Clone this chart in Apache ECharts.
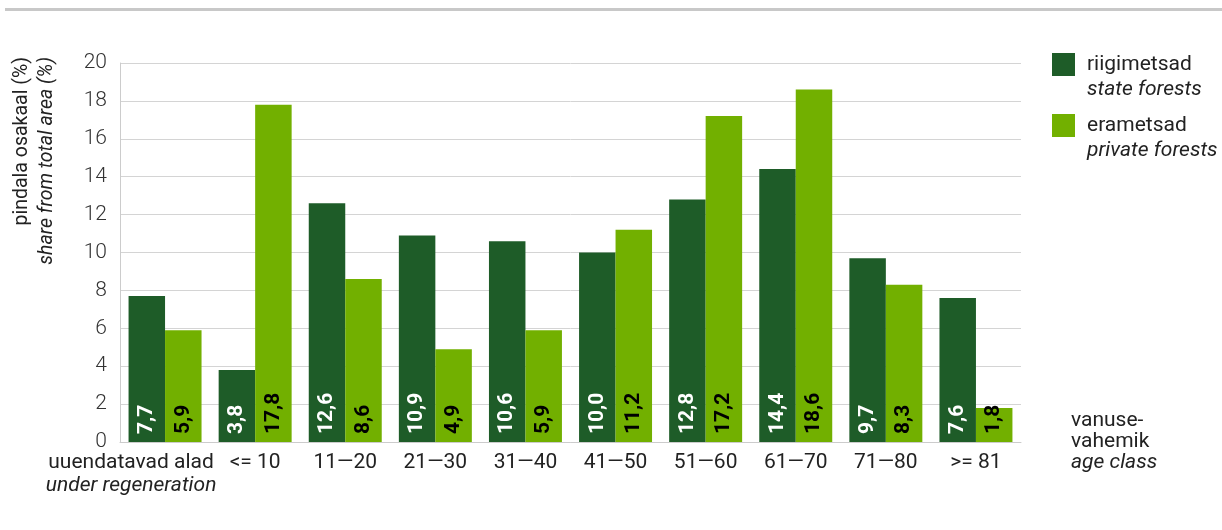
<!DOCTYPE html>
<html><head><meta charset="utf-8">
<script src="https://cdn.jsdelivr.net/npm/echarts@6/dist/echarts.min.js"></script>
<style>html,body{margin:0;padding:0;background:#fff}#c{width:1222px;height:530px}</style>
</head><body><div id="c"></div>
<script>
const categories = ['uuendatavad alad', '<= 10', '11—20', '21—30', '31—40', '41—50', '51—60', '61—70', '71—80', '>= 81'];
const stateForests = [7.7, 3.8, 12.6, 10.9, 10.6, 10.0, 12.8, 14.4, 9.7, 7.6];
const privateForests = [5.9, 17.8, 8.6, 4.9, 5.9, 11.2, 17.2, 18.6, 8.3, 1.8];
const yTicks = [0, 2, 4, 6, 8, 10, 12, 14, 16, 18, 20];

const DARK = '#1e5c28', LIGHT = '#72b000';
const FONT = 'Roboto';
const FS = 21;
const chart = echarts.init(document.getElementById('c'));
const fmt = p => p.value.toFixed(1).replace('.', ',');
const legendRich = { i: { fontStyle: 'italic', fontSize: FS, fontFamily: FONT, color: '#222', lineHeight: 25 } };

chart.setOption({
  animation: false,
  textStyle: { fontFamily: FONT },
  graphic: [
    { type: 'rect', shape: { x: 5, y: 8, width: 1217, height: 3 }, style: { fill: '#c8c8c8' }, silent: true },
    { type: 'text', x: 35, y: 57, rotation: Math.PI / 2,
      style: { text: 'pindala osakaal (%)\n{i|share from total area (%)}', align: 'right', verticalAlign: 'middle',
        fontSize: 19.5, fontFamily: FONT, fill: '#222', lineHeight: 25,
        rich: { i: { fontStyle: 'italic', fontSize: 19.5, fontFamily: FONT, fill: '#222', lineHeight: 25 } } } }
  ],
  legend: [
    { data: ['riigimetsad'], left: 1052, top: 27, padding: 0, itemWidth: 23, itemHeight: 23, icon: 'rect',
      formatter: () => 'riigimetsad\n{i|state forests}',
      textStyle: { fontSize: FS, fontFamily: FONT, color: '#222', lineHeight: 25, padding: [25, 0, 0, 7], rich: legendRich } },
    { data: ['erametsad'], left: 1052, top: 88, padding: 0, itemWidth: 23, itemHeight: 23, icon: 'rect',
      formatter: () => 'erametsad\n{i|private forests}',
      textStyle: { fontSize: FS, fontFamily: FONT, color: '#222', lineHeight: 25, padding: [25, 0, 0, 7], rich: legendRich } }
  ],
  grid: { left: 120, right: 201, top: 63, bottom: 88 },
  xAxis: {
    type: 'category',
    data: categories.map((c, i) => i === 0
      ? { value: c, textStyle: { padding: [0, 68, 0, 0] } }
      : c),
    axisTick: { show: false },
    axisLine: { show: true, lineStyle: { color: '#cccccc', width: 1 } },
    axisLabel: {
      interval: 0, margin: 9, fontSize: FS, color: '#222', fontFamily: FONT, lineHeight: 23,
      formatter: v => v === categories[0] ? v + '\n{i|under regeneration}' : v,
      rich: { i: { fontStyle: 'italic', fontSize: FS, fontFamily: FONT, color: '#222', lineHeight: 23 } }
    },
    name: 'vanuse-\nvahemik\n{i|age class}',
    nameLocation: 'end', nameGap: 50,
    nameTextStyle: { fontSize: FS, fontFamily: FONT, color: '#222', lineHeight: 21, align: 'left', verticalAlign: 'middle',
      rich: { i: { fontStyle: 'italic', fontSize: FS, fontFamily: FONT, color: '#222', lineHeight: 21 } } }
  },
  yAxis: {
    type: 'value', min: yTicks[0], max: yTicks[yTicks.length - 1], interval: yTicks[1] - yTicks[0],
    axisLine: { show: true, lineStyle: { color: '#cccccc' } },
    axisTick: { show: false },
    splitLine: { lineStyle: { color: '#d4d4d4', width: 1 } },
    axisLabel: { fontSize: FS, color: '#333', fontFamily: FONT, fontWeight: 300, margin: 13 }
  },
  series: [
    { name: 'riigimetsad', type: 'bar', data: stateForests, barGap: '0%', barCategoryGap: '19%',
      itemStyle: { color: DARK },
      label: { show: true, position: 'insideBottom', rotate: 90, align: 'left', verticalAlign: 'middle', distance: 8,
        formatter: fmt, color: '#fff', fontSize: FS, fontWeight: 'bold', fontFamily: FONT } },
    { name: 'erametsad', type: 'bar', data: privateForests, barGap: '0%', barCategoryGap: '19%',
      itemStyle: { color: LIGHT },
      label: { show: true, position: 'insideBottom', rotate: 90, align: 'left', verticalAlign: 'middle', distance: 8,
        formatter: fmt, color: '#000', fontSize: FS, fontWeight: 'bold', fontFamily: FONT } }
  ]
});
</script></body></html>
